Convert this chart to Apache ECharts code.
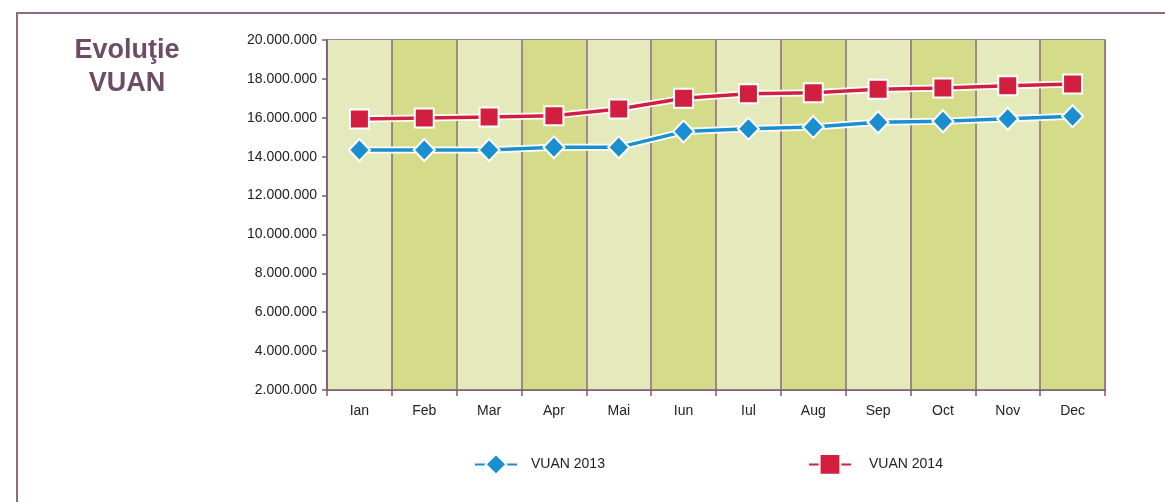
<!DOCTYPE html>
<html>
<head>
<meta charset="utf-8">
<script src="https://cdn.jsdelivr.net/npm/echarts@6/dist/echarts.min.js"></script>
<style>
  html, body { margin: 0; padding: 0; background: #fff; }
  #chart { width: 1165px; height: 502px; }
</style>
</head>
<body>
<div id="chart"></div>
<script>
// luni
const months = ['Ian', 'Feb', 'Mar', 'Apr', 'Mai', 'Iun', 'Iul', 'Aug', 'Sep', 'Oct', 'Nov', 'Dec'];
// valori
const vuan2013 = [14340000, 14340000, 14340000, 14480000, 14480000, 15290000, 15440000, 15530000, 15770000, 15820000, 15950000, 16080000];
const vuan2014 = [15940000, 15990000, 16040000, 16110000, 16450000, 17000000, 17240000, 17290000, 17470000, 17530000, 17650000, 17740000];

const purple = '#7d5b72';
const blue = '#1a8fcf';
const red = '#d31f3f';
const font = '"Liberation Sans", Arial, sans-serif';

// 20000000 -> 20.000.000
const fmtDots = (v) => String(v).replace(/\B(?=(\d{3})+(?!\d))/g, '.');

const myChart = echarts.init(document.getElementById('chart'));

let option = {
  animation: false,
  backgroundColor: '#fff',
  textStyle: { fontFamily: font },
  graphic: [
    // chenar
    {
      type: 'rect',
      shape: { x: 17, y: 13, width: 1300, height: 700 },
      style: { fill: 'none', stroke: '#8c6c84', lineWidth: 2 },
      silent: true
    },
    {
      type: 'text',
      x: 127,
      y: 34,
      style: {
        text: 'Evoluţie\nVUAN',
        fill: '#6d4c66',
        fontSize: 27,
        fontWeight: 'bold',
        fontFamily: font,
        align: 'center',
        verticalAlign: 'top',
        lineHeight: 33
      }
    }
  ],
  grid: {
    left: 327,
    right: 60,
    top: 40,
    bottom: 112,
    show: true,
    borderColor: purple,
    borderWidth: 1.5
  },
  legend: [
    {
      data: ['VUAN 2013'],
      left: 469,
      top: 448,
      itemWidth: 42,
      itemHeight: 26,
      itemGap: 0,
      textStyle: { fontSize: 14, color: '#222', padding: [0, 0, 0, 9] }
    },
    {
      data: ['VUAN 2014'],
      left: 803,
      top: 448,
      itemWidth: 42,
      itemHeight: 26,
      itemGap: 0,
      textStyle: { fontSize: 14, color: '#222', padding: [0, 0, 0, 13] }
    }
  ],
  xAxis: {
    type: 'category',
    data: months,
    boundaryGap: true,
    axisLine: { lineStyle: { color: purple, width: 1.5 } },
    axisTick: { show: true, length: 6, lineStyle: { color: purple, width: 1.5 } },
    axisLabel: { color: '#222', fontSize: 14, margin: 14 },
    splitLine: { show: true, lineStyle: { color: '#8a6b78', width: 1.5 } },
    splitArea: {
      show: true,
      areaStyle: { color: ['#e4eabc', '#d4dc8a'] }
    }
  },
  yAxis: {
    type: 'value',
    min: 2000000,
    max: 20000000,
    interval: 2000000,
    axisLine: { show: true, lineStyle: { color: purple, width: 1.5 } },
    axisTick: { show: true, length: 5, lineStyle: { color: purple, width: 1.5 } },
    axisLabel: { color: '#222', fontSize: 14, margin: 10, formatter: fmtDots },
    splitLine: { show: false }
  },
  series: [
    // contur alb sub linii
    {
      name: 'contur2013',
      type: 'line',
      data: vuan2013,
      symbol: 'none',
      silent: true,
      z: 1,
      lineStyle: { color: '#fff', width: 7 }
    },
    {
      name: 'contur2014',
      type: 'line',
      data: vuan2014,
      symbol: 'none',
      silent: true,
      z: 1,
      lineStyle: { color: '#fff', width: 7 }
    },
    {
      name: 'VUAN 2013',
      type: 'line',
      data: vuan2013,
      z: 3,
      symbol: 'diamond',
      symbolSize: [21, 22],
      showAllSymbol: true,
      lineStyle: { color: blue, width: 3.5 },
      itemStyle: { color: blue, borderColor: '#fff', borderWidth: 2 }
    },
    {
      name: 'VUAN 2014',
      type: 'line',
      data: vuan2014,
      z: 3,
      symbol: 'rect',
      symbolSize: 19,
      showAllSymbol: true,
      lineStyle: { color: red, width: 3.5 },
      itemStyle: { color: red, borderColor: '#fff', borderWidth: 2 }
    }
  ]
};

option && myChart.setOption(option);
</script>
</body>
</html>
